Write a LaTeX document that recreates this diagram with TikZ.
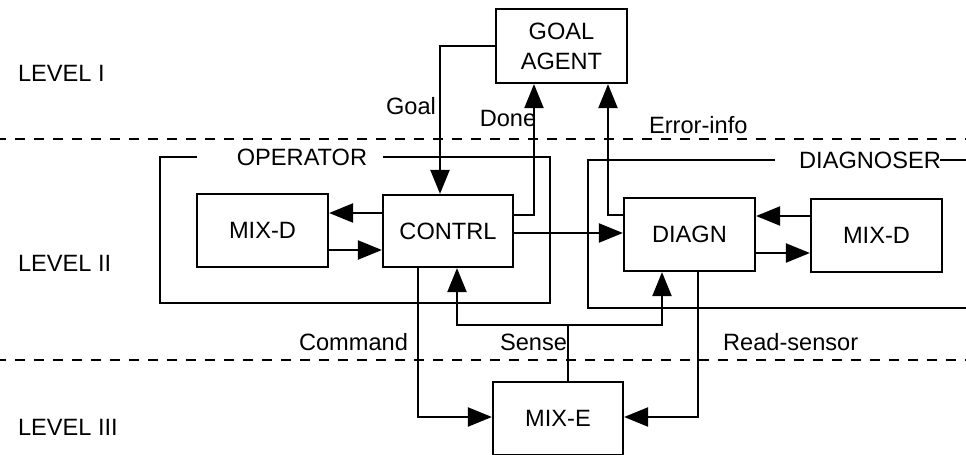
\documentclass[tikz,border=0pt]{standalone}
\usepackage{fontspec}
\setmainfont{Liberation Sans}
\usepackage{tikz}
\usetikzlibrary{arrows.meta,positioning}

\begin{document}
\begin{tikzpicture}[x=0.5pt,y=-0.5pt,line width=1.1pt,
        every node/.style={font=\fontsize{11.8}{15}\selectfont},
        flow/.style={-{Triangle[length=12pt,width=9.5pt]}}]
        \tikzstyle{block}=[draw,line width=1.1pt,minimum width=65.5pt,minimum height=36.5pt,inner sep=0pt]
        \tikzstyle{lbl}=[inner sep=0pt]
        \tikzstyle{levelline}=[line width=1pt,dash pattern=on 5pt off 4.5pt,dash phase=2pt]
        \useasboundingbox (0,0) rectangle (966,455);

        % level separators and names
        \draw[levelline] (0,139) -- (966,139);
        \draw[levelline] (0,360) -- (966,360);
        \node[lbl,anchor=west] (l1) at (17,73) {LEVEL I};
        \node[lbl,anchor=west] (l2) at (17,263) {LEVEL II};
        \node[lbl,anchor=west] (l3) at (17,427) {LEVEL III};

        % agents
        \node[block,minimum height=37pt,align=center] (goal) at (561.5,46) {GOAL\\AGENT};
        \node[block] (mixdl) at (262.5,230.5) {MIX-D};
        \node[block,minimum width=65pt,minimum height=36pt] (contrl) at (448,231) {CONTRL};
        \node[block] (diagn) at (689.5,234.5) {DIAGN};
        \node[block] (mixdr) at (876.5,235.5) {MIX-D};
        \node[block,minimum width=65pt] (mixe) at (558,418.5) {MIX-E};

        % operator and diagnoser groups
        \draw (197,157) -- (160,157) -- (160,303) -- (550,303) -- (550,157) -- (383,157);
        \node[lbl] (op) at (302,157) {OPERATOR};
        \draw (775,160) -- (588,160) -- (588,308) -- (966,308);
        \draw (940,160) -- (966,160);
        \node[lbl] (dg) at (870,160) {DIAGNOSER};

        % level I <-> level II
        \draw[flow] (goal.west) -| ([xshift=-4pt]contrl.north);
        \draw[flow] (contrl.east |- 0,215) -| ([xshift=-13.75pt]goal.south);
        \draw[flow] (diagn.west |- 0,215) -| ([xshift=23.25pt]goal.south);
        \node[lbl,anchor=east] at (437,106) {Goal};
        \node[lbl] at (508,118) {Done};
        \node[lbl,anchor=west] at (648,125) {Error-info};

        % inside level II
        \draw[flow] (contrl.west |- 0,213) -- (mixdl.east |- 0,213);
        \draw[flow] (mixdl.east |- 0,250) -- (contrl.west |- 0,250);
        \draw[flow] (contrl.east |- 0,233) -- (diagn.west |- 0,233);
        \draw[flow] (mixdr.west |- 0,216) -- (diagn.east |- 0,216);
        \draw[flow] (diagn.east |- 0,253) -- (mixdr.west |- 0,253);

        % level II <-> level III
        \coordinate (sj) at (568,325);
        \draw (mixe.north -| sj) -- (sj);
        \draw[flow] (sj) -| (contrl.south -| 457,0);
        \draw[flow] (sj) -| (diagn.south -| 662,0);
        \draw[flow] (contrl.south -| 418,0) |- (mixe.west |- 0,417);
        \draw[flow] (diagn.south -| 698,0) |- (mixe.east |- 0,417);
        \node[lbl,anchor=east] at (409,342) {Command};
        \node[lbl,anchor=west] at (499,342) {Sense};
        \node[lbl,anchor=west] at (722,342) {Read-sensor};
    \end{tikzpicture}
\end{document}
